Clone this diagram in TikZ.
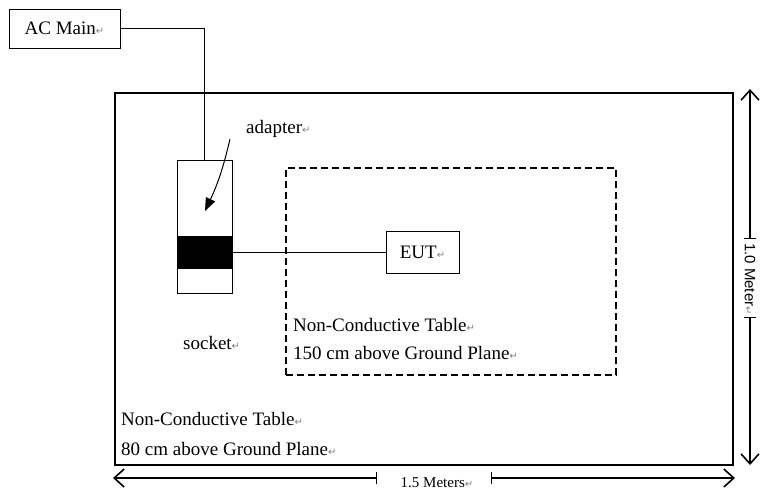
\documentclass[tikz,border=0pt]{standalone}
\usepackage{fontspec}
\setmainfont{Liberation Serif}
\newfontfamily\dimfont{Liberation Sans}
\newfontfamily\markfont{DejaVu Sans}
\usetikzlibrary{arrows.meta,positioning}
\newcommand{\ret}{{\markfont\fontsize{10}{10}\selectfont\textcolor{gray}{↵}}}

\begin{document}
\begin{tikzpicture}[
    x=1pt, y=-1pt,
    font=\fontsize{19}{22}\selectfont,
    box/.style={
        draw,
        line width=1pt,
        inner sep=0pt
    },
    tablebox/.style={
        draw,
        line width=1.8pt,
        inner sep=0pt
    },
    dashbox/.style={
        draw,
        line width=1.2pt,
        dash pattern=on 7pt off 4pt,
        inner sep=0pt
    },
    plugbox/.style={
        fill=black,
        inner sep=0pt,
        minimum width=55pt,
        minimum height=33pt
    },
    txt/.style={
        anchor=base west,
        inner sep=0pt
    },
    wire/.style={
        line width=0.9pt
    },
    pointer/.style={
        -{Triangle[length=13pt,width=10pt]},
        line width=1pt
    },
    dim/.style={
        {Bar[width=12pt]}-{Straight Barb[length=10pt,width=18pt,line width=1.6pt]},
        line width=1.1pt
    }
]
\useasboundingbox (0,0) rectangle (763,496);

% boxes
\node[box, minimum width=111pt, minimum height=39pt] (acmain) at (64.5,28.5) {AC Main\ret};
\node[tablebox, minimum width=618pt, minimum height=372pt] (groundtable) at (424,279) {};
\node[dashbox, minimum width=330pt, minimum height=207pt] (eutable) at (451,271.5) {};
\node[box, minimum width=55pt, minimum height=133pt] (socket) at (204.5,226.5) {};
\node[plugbox] (plug) at (204.5,252.5) {};
\node[box, minimum width=73pt, minimum height=42pt] (eut) at (422.5,252.5) {EUT\ret};

% labels
\node[txt] (adapterlbl) at (246,133) {adapter\ret};
\node[txt] (socketlbl) at (183,349) {socket\ret};
\node[txt] (eutline1) at (293,331) {Non-Conductive Table\ret};
\node[txt] (eutline2) at (293,359) {150 cm above Ground Plane\ret};
\node[txt] (tableline1) at (121,425) {Non-Conductive Table\ret};
\node[txt] (tableline2) at (121,455) {80 cm above Ground Plane\ret};

% wiring
\draw[wire] (acmain.east) -| (socket.north);
\draw[wire] (plug.east) -- (eut.west);
\coordinate (adaptertail) at (230,139);
\coordinate (adaptertip) at (205,211);
\draw[pointer] (adaptertail) to[bend left=6] (adaptertip);

% dimensions
\coordinate (hleft) at (113,478);
\coordinate (hright) at (735,478);
\coordinate (htickl) at (377,478);
\coordinate (htickr) at (491,478);
\node[inner sep=0pt, anchor=base, font=\fontsize{15}{15}\selectfont] (widthlbl) at (437,487) {1.5 Meters\ret};
\draw[dim] (htickl) -- (hleft);
\draw[dim] (htickr) -- (hright);

\coordinate (vtop) at (750,89);
\coordinate (vbottom) at (750,465);
\coordinate (vtickt) at (750,239);
\coordinate (vtickb) at (750,317);
\node[inner sep=0pt, rotate=-90, font=\dimfont\fontsize{15}{15}\selectfont] (heightlbl) at (750,279) {1.0 Meter\ret};
\draw[dim] (vtickt) -- (vtop);
\draw[dim] (vtickb) -- (vbottom);

\end{tikzpicture}
\end{document}
